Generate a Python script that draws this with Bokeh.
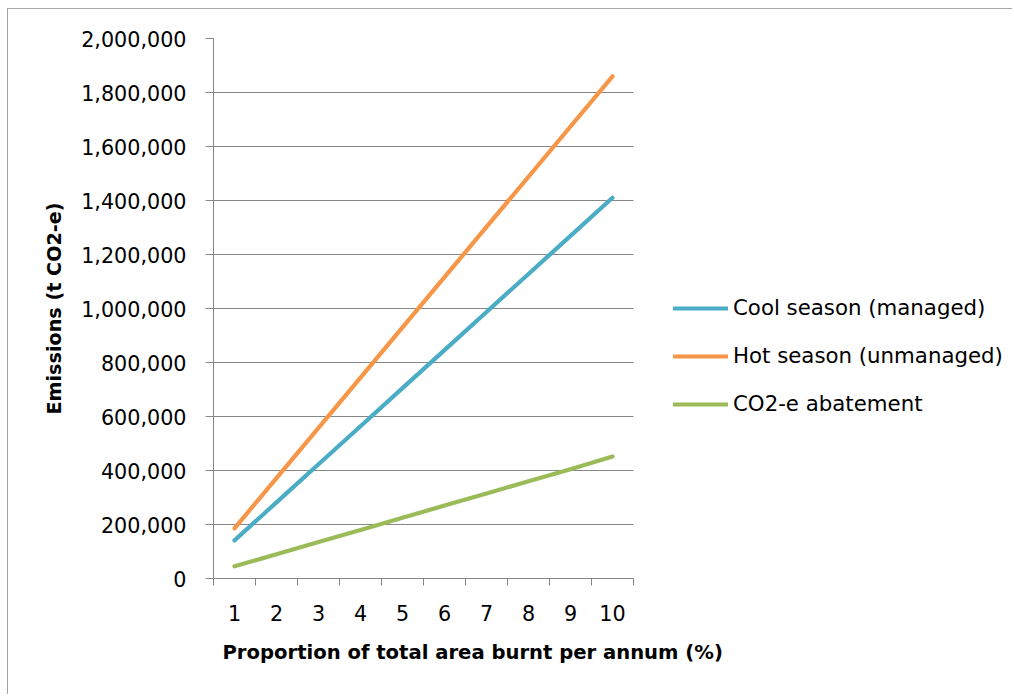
from bokeh.plotting import figure
from bokeh.models import Range1d, FixedTicker, NumeralTickFormatter, Legend, LegendItem, Title
from bokeh.embed import file_html
from bokeh.resources import INLINE

# ---- data ----
categories = [1, 2, 3, 4, 5, 6, 7, 8, 9, 10]
cool_season = [141000, 282000, 423000, 564000, 705000, 846000, 987000, 1128000, 1269000, 1410000]
hot_season = [186000, 372000, 558000, 744000, 930000, 1116000, 1302000, 1488000, 1674000, 1860000]
abatement = [45000, 90000, 135000, 180000, 225000, 270000, 315000, 360000, 405000, 452000]
y_ticks = [0, 200000, 400000, 600000, 800000, 1000000, 1200000, 1400000, 1600000, 1800000, 2000000]
series_names = ["Cool season (managed)", "Hot season (unmanaged)", "CO2-e abatement"]
series_colors = ["#4BACC6", "#F79646", "#9BBB59"]
x_title = "Proportion of total area burnt per annum (%)"
y_title = "Emissions (t CO2-e)"

FONT = "DejaVu Sans"
GRAY = "#868686"

W, H = 1005, 686
BL, BR, BT, BB = 205, 1, 29, 117
CAT_PX = 42.0  # pixel width of one category
x_lo = categories[0] - 0.5
x_hi = categories[-1] + 0.5
x_end = x_lo + (W - BL - BR) / CAT_PX  # frame extends right so the legend is not clipped

p = figure(width=W, height=H, output_backend="svg", toolbar_location=None,
           x_range=Range1d(x_lo, x_end),
           y_range=Range1d(y_ticks[0], y_ticks[-1]),
           min_border_left=BL, min_border_right=BR, min_border_top=BT, min_border_bottom=BB)

p.styles = {"margin-left": "8px", "margin-top": "9px", "box-shadow": "-1px -1px 0 0 #a6a6a6"}
p.outline_line_color = None
p.background_fill_color = "white"
p.border_fill_color = "white"
p.xgrid.visible = False
p.ygrid.grid_line_color = GRAY
p.ygrid.grid_line_width = 1
p.ygrid.cross_bounds = (x_lo, x_hi)

# x axis: labels at category centres, tick marks between categories
xa = p.xaxis[0]
xa.bounds = (x_lo, x_hi)
xa.ticker = FixedTicker(ticks=categories,
                        minor_ticks=[c - 0.5 for c in categories] + [x_hi])
xa.major_tick_out = 0
xa.major_tick_in = 0
xa.minor_tick_out = 7
xa.minor_tick_in = 0
xa.minor_tick_line_color = GRAY
xa.axis_line_color = GRAY
xa.major_label_text_font = FONT
xa.major_label_text_font_size = "20.7px"
xa.major_label_text_color = "black"
xa.major_label_standoff = 19

p.add_layout(Title(text=x_title, align="left", offset=9, standoff=31,
                   text_font=FONT, text_font_size="19.6px", text_font_style="bold",
                   text_color="black"), "below")

ya = p.yaxis[0]
ya.ticker = FixedTicker(ticks=y_ticks)
ya.formatter = NumeralTickFormatter(format="0,0")
ya.major_tick_out = 8
ya.major_tick_in = 0
ya.minor_tick_out = 0
ya.minor_tick_in = 0
ya.minor_tick_line_color = None
ya.major_tick_line_color = GRAY
ya.axis_line_color = GRAY
ya.major_label_text_font = FONT
ya.major_label_text_font_size = "20.7px"
ya.major_label_text_color = "black"
ya.major_label_standoff = 19
ya.axis_label = y_title
ya.axis_label_text_font = FONT
ya.axis_label_text_font_size = "19.2px"
ya.axis_label_text_font_style = "bold"
ya.axis_label_text_color = "black"
ya.axis_label_standoff = 12

renderers = []
for vals, color in zip([cool_season, hot_season, abatement], series_colors):
    r = p.line(categories, vals, line_color=color, line_width=4.2, line_cap="round", line_join="round")
    renderers.append(r)

legend = Legend(items=[LegendItem(label=n, renderers=[r]) for n, r in zip(series_names, renderers)],
                location=(460, 162), orientation="vertical",
                glyph_width=55, glyph_height=20, label_height=20, spacing=23,
                label_standoff=5, padding=0, margin=0,
                border_line_color=None, background_fill_alpha=0,
                label_text_font=FONT, label_text_font_size="21.3px", label_text_color="black")
p.add_layout(legend)

open("out.html", "w").write(file_html(p, INLINE))
